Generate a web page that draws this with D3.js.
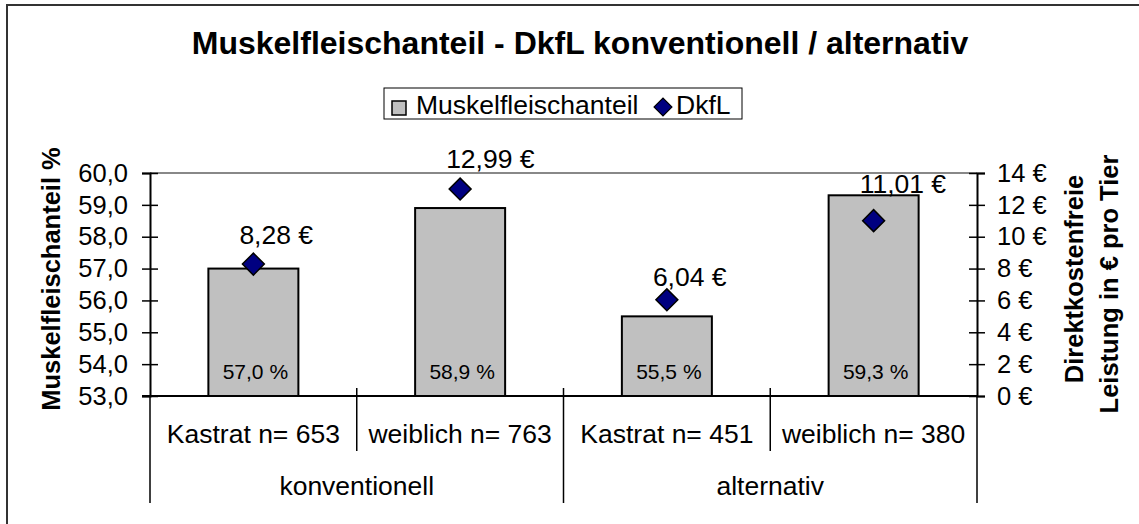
<!DOCTYPE html>
<html>
<head>
<meta charset="utf-8">
<script src="https://cdn.jsdelivr.net/npm/d3@7"></script>
<style>
  body { margin: 0; background: #fff; }
  svg { display: block; font-family: "Liberation Sans", Arial, sans-serif; }
</style>
</head>
<body>
<div id="chart-area"></div>
<script>
// data
var categories = ["Kastrat n= 653", "weiblich n= 763", "Kastrat n= 451", "weiblich n= 380"];
var groups = ["konventionell", "alternativ"];
var groupOf = ["konventionell", "konventionell", "alternativ", "alternativ"];
var muskel = [57.0, 58.9, 55.5, 59.3];
var dkfl = [8.28, 12.99, 6.04, 11.01];
var leftTicks = [53, 54, 55, 56, 57, 58, 59, 60];
var rightTicks = [0, 2, 4, 6, 8, 10, 12, 14];
var seriesNames = ["Muskelfleischanteil", "DkfL"];
// label nudges (px above the marker), as placed in the original
var labelShift = [20, 21, 14, 28];

var W = 1139, H = 524;
var plot = { left: 150, right: 977, top: 173, bottom: 396 };
var fs = "26.5px";

var svg = d3.select("#chart-area").append("svg")
    .attr("width", W)
    .attr("height", H);

// outer frame
svg.append("rect")
    .attr("x", 7).attr("y", 5)
    .attr("width", W + 10).attr("height", H + 10)
    .attr("fill", "none")
    .attr("stroke", "#333")
    .attr("stroke-width", 2);

var comma = function(s) { return s.replace(".", ","); };

var x = d3.scaleBand()
    .domain(categories)
    .range([plot.left, plot.right])
    .paddingInner(1 - 90 / 206.75)
    .paddingOuter((1 - 90 / 206.75) / 2);
var xg = d3.scaleBand()
    .domain(groups)
    .range([plot.left, plot.right]);
var yL = d3.scaleLinear().domain([53, 60]).range([plot.bottom, plot.top]);
var yR = d3.scaleLinear().domain([0, 14]).range([plot.bottom, plot.top]);

// title
svg.append("text")
    .attr("x", 580)
    .attr("y", 54)
    .attr("text-anchor", "middle")
    .attr("font-size", "32px")
    .attr("font-weight", "bold")
    .text("Muskelfleischanteil - DkfL konventionell / alternativ");

// legend
var lg = svg.append("g");
lg.append("rect")
    .attr("x", 384).attr("y", 88)
    .attr("width", 358).attr("height", 31)
    .attr("fill", "#fff")
    .attr("stroke", "#000")
    .attr("stroke-width", 1);
lg.append("rect")
    .attr("x", 392).attr("y", 101)
    .attr("width", 14).attr("height", 14)
    .attr("fill", "#c0c0c0")
    .attr("stroke", "#000")
    .attr("stroke-width", 1.5);
lg.append("text")
    .attr("x", 416).attr("y", 114)
    .attr("font-size", fs)
    .text(seriesNames[0]);
lg.append("path")
    .attr("d", d3.symbol().type(d3.symbolSquare).size(160))
    .attr("transform", "translate(663,107) rotate(45)")
    .attr("fill", "#000080")
    .attr("stroke", "#000")
    .attr("stroke-width", 1.2);
lg.append("text")
    .attr("x", 676).attr("y", 114)
    .attr("font-size", fs)
    .text(seriesNames[1]);

// plot top border
svg.append("line")
    .attr("x1", plot.left).attr("x2", plot.right)
    .attr("y1", plot.top).attr("y2", plot.top)
    .attr("stroke", "#888")
    .attr("stroke-width", 2);

// bars
svg.selectAll("rect.bar").data(muskel).enter().append("rect")
    .attr("class", "bar")
    .attr("x", (d, i) => x(categories[i]))
    .attr("y", (d) => yL(d))
    .attr("width", x.bandwidth())
    .attr("height", (d) => yL(53) - yL(d))
    .attr("fill", "#c0c0c0")
    .attr("stroke", "#000")
    .attr("stroke-width", 2);

// value labels inside bars
svg.selectAll("text.barlabel").data(muskel).enter().append("text")
    .attr("class", "barlabel")
    .attr("x", (d, i) => x(categories[i]) + x.bandwidth() / 2 + 2)
    .attr("y", 379)
    .attr("text-anchor", "middle")
    .attr("font-size", "21px")
    .text((d) => comma(d.toFixed(1)) + " %");

// left axis
var axL = svg.append("g")
    .attr("transform", "translate(" + plot.left + ",0)")
    .call(d3.axisLeft(yL).tickValues(leftTicks).tickSize(8).tickPadding(14)
        .tickFormat((d) => comma(d3.format(".1f")(d))));
axL.select(".domain").attr("stroke", "#000").attr("stroke-width", 2);
axL.selectAll(".tick line").attr("x1", 8).attr("stroke-width", 1.5);
axL.selectAll(".tick text").attr("font-size", "25.5px").attr("fill", "#000")
    .attr("font-family", "Liberation Sans, Arial, sans-serif");

// right axis
var axR = svg.append("g")
    .attr("transform", "translate(" + plot.right + ",0)")
    .call(d3.axisRight(yR).tickValues(rightTicks).tickSize(8).tickPadding(12)
        .tickFormat((d) => d + " €"));
axR.select(".domain").attr("stroke", "#000").attr("stroke-width", 2);
axR.selectAll(".tick line").attr("x1", -8).attr("stroke-width", 1.5);
axR.selectAll(".tick text").attr("font-size", "25.5px").attr("fill", "#000")
    .attr("font-family", "Liberation Sans, Arial, sans-serif");

// bottom axis line
svg.append("line")
    .attr("x1", plot.left - 8).attr("x2", plot.right)
    .attr("y1", plot.bottom).attr("y2", plot.bottom)
    .attr("stroke", "#000")
    .attr("stroke-width", 2);

// category separators
var gap = (x.step() - x.bandwidth()) / 2;
categories.forEach((c, i) => {
    if (i === 0) return;
    var sx = x(c) - gap;
    var isGroup = groupOf[i] !== groupOf[i - 1];
    svg.append("line")
        .attr("x1", sx).attr("x2", sx)
        .attr("y1", 388).attr("y2", isGroup ? 503 : 451)
        .attr("stroke", "#000")
        .attr("stroke-width", 1.5);
});
[plot.left, plot.right].forEach((sx) => {
    svg.append("line")
        .attr("x1", sx).attr("x2", sx)
        .attr("y1", plot.bottom).attr("y2", 503)
        .attr("stroke", "#000")
        .attr("stroke-width", 1.5);
});

// category labels
svg.selectAll("text.cat").data(categories).enter().append("text")
    .attr("class", "cat")
    .attr("x", (d) => x(d) + x.bandwidth() / 2)
    .attr("y", 443)
    .attr("text-anchor", "middle")
    .attr("font-size", fs)
    .text((d) => d);
svg.selectAll("text.grp").data(groups).enter().append("text")
    .attr("class", "grp")
    .attr("x", (d) => xg(d) + xg.bandwidth() / 2)
    .attr("y", 495)
    .attr("text-anchor", "middle")
    .attr("font-size", fs)
    .text((d) => d);

// DkfL markers
svg.selectAll("path.dia").data(dkfl).enter().append("path")
    .attr("class", "dia")
    .attr("d", d3.symbol().type(d3.symbolSquare).size(240))
    .attr("transform", (d, i) => "translate(" + (x(categories[i]) + x.bandwidth() / 2) + "," + yR(d) + ") rotate(45)")
    .attr("fill", "#000080")
    .attr("stroke", "#000")
    .attr("stroke-width", 1.5);
svg.selectAll("text.dlabel").data(dkfl).enter().append("text")
    .attr("class", "dlabel")
    .attr("x", (d, i) => x(categories[i]) + x.bandwidth() / 2 - 14)
    .attr("y", (d, i) => yR(d) - labelShift[i])
    .attr("font-size", fs)
    .text((d) => comma(d.toFixed(2)) + " €");

// axis titles
svg.append("text")
    .attr("transform", "translate(60,279) rotate(-90)")
    .attr("text-anchor", "middle")
    .attr("font-size", "25.5px")
    .attr("font-weight", "bold")
    .text("Muskelfleischanteil %");
svg.append("text")
    .attr("transform", "translate(1083,279) rotate(-90)")
    .attr("text-anchor", "middle")
    .attr("font-size", "25.5px")
    .attr("font-weight", "bold")
    .text("Direktkostenfreie");
svg.append("text")
    .attr("transform", "translate(1118,284) rotate(-90)")
    .attr("text-anchor", "middle")
    .attr("font-size", "25.5px")
    .attr("font-weight", "bold")
    .text("Leistung in € pro Tier");
</script>
</body>
</html>
